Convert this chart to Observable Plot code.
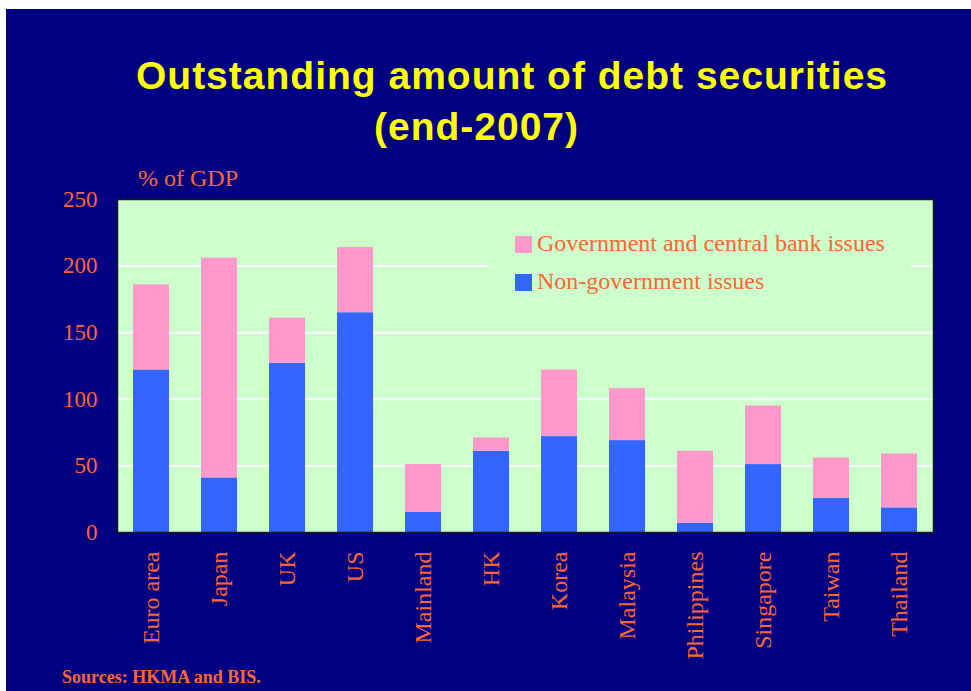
<!DOCTYPE html>
<html>
<head>
<meta charset="utf-8">
<script src="https://cdn.jsdelivr.net/npm/d3@7"></script>
<script src="https://cdn.jsdelivr.net/npm/@observablehq/plot@0.6"></script>
<style>
  html, body { margin: 0; padding: 0; background: #fff; }
  #wrap { position: relative; width: 971px; height: 691px; overflow: hidden; background: #fff; }
  #bg { position: absolute; left: 6px; top: 9px; right: 0; bottom: 0; background: #000080; }
  .t { position: absolute; white-space: nowrap; line-height: 1; }
  .title { font-family: "Liberation Sans", Arial, sans-serif; font-weight: bold; font-size: 39px; letter-spacing: 1px; color: #FFFF00; }
  .serif { font-family: "Liberation Serif", "Times New Roman", serif; color: #FF6633; }
  #chart { position: absolute; left: 0; top: 180px; }
  #legend { position: absolute; left: 488px; top: 226px; width: 423px; height: 74px; background: #CCFFCC; }
  .sw { position: absolute; width: 17px; height: 17px; }
</style>
</head>
<body>
<div id="wrap">
  <div id="bg"></div>
  <div id="chart"></div>
  <div class="t title" style="left:0; width:1024px; text-align:center; top:56px;">Outstanding amount of debt securities</div>
  <div class="t title" style="left:0; width:953px; text-align:center; top:107px;">(end-2007)</div>
  <div class="t serif" style="left:138px; top:166px; font-size:24px;">% of GDP</div>
  <div id="legend"></div>
  <div class="t serif" style="left:62px; top:668px; font-size:18px; font-weight:bold;">Sources: HKMA and BIS.</div>
</div>
<script>
const categories = ["Euro area","Japan","UK","US","Mainland","HK","Korea","Malaysia","Philippines","Singapore","Taiwan","Thailand"];
const nonGov = [122, 41, 127, 165, 15, 61, 72, 69, 7, 51, 25.5, 18.5];
const gov    = [64, 165, 34, 49, 36, 10, 50, 39, 54, 44, 30.5, 40.5];
const seriesNames = ["Government and central bank issues", "Non-government issues"];
const seriesColors = ["#FF99CC", "#3366FF"];
const yTicks = [0, 50, 100, 150, 200, 250];
const gridTicks = [50, 100, 150, 200];

const rows = [];
categories.forEach((c, i) => rows.push({country: c, series: seriesNames[1], value: nonGov[i]}));
categories.forEach((c, i) => rows.push({country: c, series: seriesNames[0], value: gov[i]}));

const orange = "#FF6633";
const chart = Plot.plot({
  width: 971,
  height: 511,
  marginLeft: 117,
  marginRight: 38,
  marginTop: 19,
  marginBottom: 159,
  style: {background: "transparent", fontFamily: "Liberation Serif, Times New Roman, serif", fontSize: "23px", color: orange},
  x: {domain: categories, paddingInner: 0.47, paddingOuter: 0.225, label: null},
  y: {domain: [0, 250], ticks: yTicks, label: null},
  color: {domain: seriesNames, range: seriesColors},
  marks: [
    Plot.frame({fill: "#CCFFCC", stroke: null}),
    Plot.ruleY(gridTicks, {stroke: "#ffffff", strokeWidth: 2}),
    Plot.barY(rows, Plot.stackY({x: "country", y: "value", fill: "series", order: null})),
    Plot.frame({stroke: "#1a1a1a", strokeWidth: 1.5}),
    Plot.axisY({ticks: yTicks, tickSize: 0, tickPadding: 20, fill: orange, fontSize: 23, label: null}),
    Plot.axisX({tickSize: 0, tickPadding: 19, tickRotate: -90, fill: orange, fontSize: 24, label: null})
  ]
});
document.getElementById("chart").appendChild(chart);

// legend
const lg = document.getElementById("legend");
seriesNames.forEach((s, i) => {
  const sw = document.createElement("div");
  sw.className = "sw";
  sw.style.left = "27px";
  sw.style.top = (10 + i * 38) + "px";
  sw.style.background = seriesColors[i];
  lg.appendChild(sw);
  const tx = document.createElement("div");
  tx.className = "t serif";
  tx.style.left = "49px";
  tx.style.top = (5 + i * 38) + "px";
  tx.style.fontSize = "24px";
  tx.textContent = s;
  lg.appendChild(tx);
});
</script>
</body>
</html>
